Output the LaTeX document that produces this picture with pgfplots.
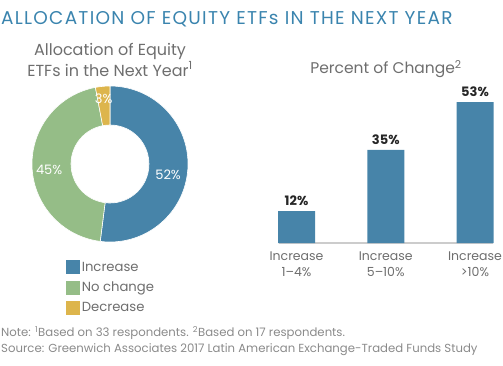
\documentclass[border=0pt]{standalone}
\usepackage{pgfplots}
\pgfplotsset{compat=1.18}
\usepackage{fontspec}
\setmainfont{Poppins}
\definecolor{titleblue}{HTML}{3A84AE}
\definecolor{incblue}{HTML}{4784A9}
\definecolor{nochg}{HTML}{95BD87}
\definecolor{decy}{HTML}{DDB54C}
\definecolor{subgray}{HTML}{6E6E6E}
\definecolor{notegray}{HTML}{8A8A8A}
\definecolor{basegray}{HTML}{CCCCCC}
% donut data (percent)
\def\vInc{52}\def\vNo{45}\def\vDec{3}
\pgfmathsetmacro\aS{90}
\pgfmathsetmacro\aA{90-3.6*\vInc}
\pgfmathsetmacro\aB{\aA-3.6*\vNo}
\pgfmathsetmacro\aC{\aB-3.6*\vDec}
\newcommand\slice[3]{% start, end, color
  \fill[#3, draw=white, line width=0.6pt] (axis cs:{cos(#1)},{sin(#1)}) arc[start angle=#1, end angle=#2, radius=1]
   -- (axis cs:{0.5*cos(#2)},{0.5*sin(#2)}) arc[start angle=#2, end angle=#1, radius=0.5] -- cycle;}
\begin{document}
\begin{tikzpicture}[x=1pt,y=1pt]
\path[use as bounding box] (0,0) rectangle (503,365);
\node[anchor=west, text=titleblue, font=\fontsize{18.5}{20}\selectfont\addfontfeatures{LetterSpace=6.8}, inner sep=0] at (1,345.5) {ALLOCATION OF EQUITY ETFs IN THE NEXT YEAR};
\node[align=center, text=subgray, font=\fontsize{16}{21}\selectfont] at (110,305.5) {Allocation of Equity\\ETFs in the Next Year\textsuperscript{1}};
\node[text=subgray, font=\fontsize{15.5}{21}\selectfont] at (386,296) {Percent of Change\textsuperscript{2}};

\begin{axis}[at={(110pt,201pt)}, anchor=center, scale only axis, width=156pt, height=156pt,
  xmin=-1, xmax=1, ymin=-1, ymax=1, hide axis, clip=false,
  legend style={at={(0.2,-0.1)}, anchor=north west, draw=none, fill=none,
    font=\fontsize{13.2}{15}\selectfont, text=subgray, row sep=5.5pt,
    /tikz/every even column/.append style={column sep=2pt}},
  legend cell align=left]
\addplot[draw=none, forget plot] coordinates {(0,0)};
\slice{\aS}{\aA}{incblue}
\slice{\aA}{\aB}{nochg}
\slice{\aB}{\aC}{decy}
\node[text=white, font=\fontsize{13}{16}\selectfont] at (axis cs:0.745,-0.14) {\vInc\%};
\node[text=white, font=\fontsize{13}{16}\selectfont] at (axis cs:-0.78,-0.08) {\vNo\%};
\node[text=white, font=\fontsize{13}{16}\selectfont] at (axis cs:-0.08,0.83) {\vDec\%};
\addlegendimage{legend image code/.code={\fill[incblue] (0pt,-6.5pt) rectangle (13pt,6.5pt);}}
\addlegendentry{Increase}
\addlegendimage{legend image code/.code={\fill[nochg] (0pt,-6.5pt) rectangle (13pt,6.5pt);}}
\addlegendentry{No change}
\addlegendimage{legend image code/.code={\fill[decy] (0pt,-6.5pt) rectangle (13pt,6.5pt);}}
\addlegendentry{Decrease}
\end{axis}

\begin{axis}[at={(278.65pt,122pt)}, anchor=south west, scale only axis, width=214.2pt, height=159.6pt,
  xmin=-0.2, xmax=2.2, ymin=0, ymax=60, clip=false,
  hide y axis, axis x line*=bottom, x axis line style={basegray, line width=1.5pt, -},
  xtick=data, major tick length=0pt,
  xticklabels={{Increase\\1--4\%},{Increase\\5--10\%},{Increase\\>10\%}},
  xticklabel style={align=center, text=subgray, font=\fontsize{12.5}{16}\selectfont, inner sep=1pt, yshift=-8pt},
  ybar, bar width=37pt, bar shift=0pt,
  nodes near coords={\pgfmathprintnumber[assume math mode=true]{\pgfplotspointmeta}\%},
  nodes near coords style={font=\fontsize{13}{16}\selectfont\fontseries{sb}\selectfont, text=black!85, yshift=2pt}]
\addplot[fill=incblue, draw=none] coordinates {(0,12) (1,35) (2,53)};
\end{axis}

\node[anchor=west, text=notegray, font=\fontsize{11.7}{13}\selectfont, inner sep=0] at (1,32) {Note: \textsuperscript{1}Based on 33 respondents. \textsuperscript{2}Based on 17 respondents.};
\node[anchor=west, text=notegray, font=\fontsize{11.7}{13}\selectfont, inner sep=0] at (1,15) {Source: Greenwich Associates 2017 Latin American Exchange-Traded Funds Study};
\end{tikzpicture}
\end{document}
